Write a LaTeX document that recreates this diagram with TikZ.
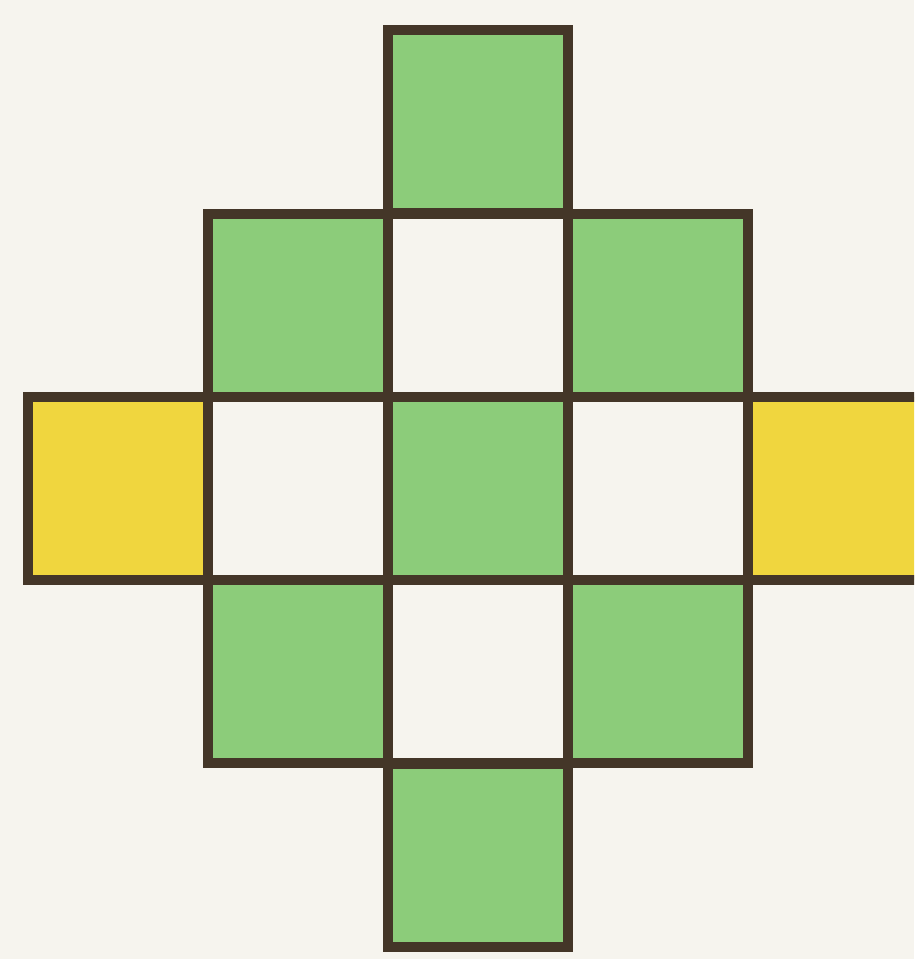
\documentclass[tikz,border=0pt]{standalone}
\usepackage{tikz}
\definecolor{gridLine}{RGB}{68,54,40}
\definecolor{gridGreen}{RGB}{140,204,122}
\definecolor{gridYellow}{RGB}{240,214,62}
\definecolor{gridPaper}{RGB}{246,244,238}
\usetikzlibrary{positioning}

\begin{document}
\begin{tikzpicture}[
    cell/.style={rectangle, draw=gridLine, fill=gridPaper, line width=2.8pt,
                 minimum width=18mm, minimum height=18.3mm, inner sep=0pt},
    green cell/.style={cell, fill=gridGreen},
    yellow cell/.style={cell, fill=gridYellow}
  ]
  \fill[gridPaper] (0,0) rectangle (9.14,9.59);
  \useasboundingbox (0,0) rectangle (9.14,9.59);
  \clip (0,0) rectangle (9.14,9.59);

  % column i, row j (row 0 on top)
  \foreach \i/\j/\kind in {2/0/green cell,
                           1/1/green cell, 2/1/cell, 3/1/green cell,
                           0/2/yellow cell, 1/2/cell, 2/2/green cell, 3/2/cell, 4/2/yellow cell,
                           1/3/green cell, 2/3/cell, 3/3/green cell,
                           2/4/green cell}
    \node[\kind] (c\i\j) at ({1.18+1.8*\i}, {8.373-1.834*\j}) {};
\end{tikzpicture}
\end{document}
